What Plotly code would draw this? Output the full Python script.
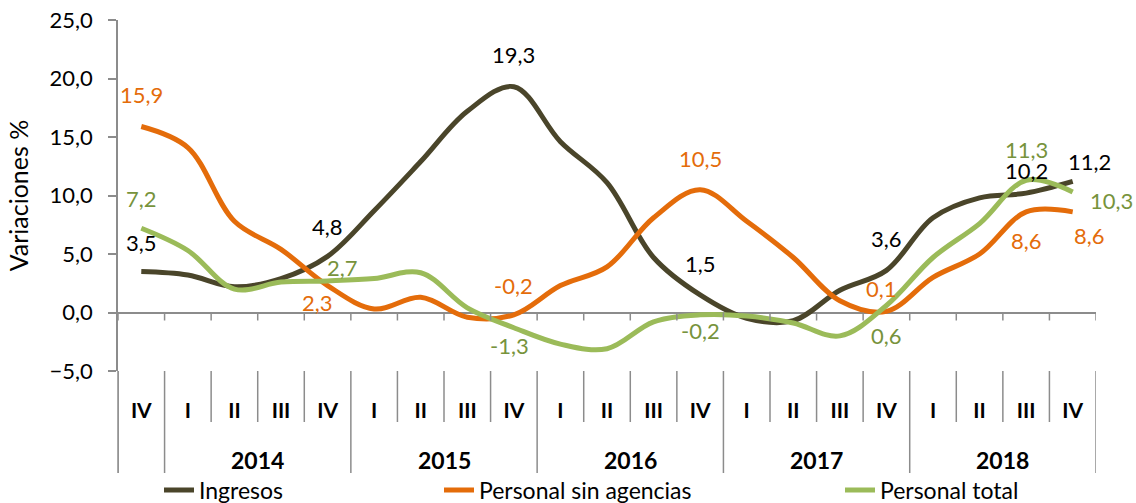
import plotly.graph_objects as go

# ---- data ----
quarters = ["IV", "I", "II", "III", "IV", "I", "II", "III", "IV", "I", "II", "III", "IV",
            "I", "II", "III", "IV", "I", "II", "III", "IV"]
years = ["", "2014", "2014", "2014", "2014", "2015", "2015", "2015", "2015",
         "2016", "2016", "2016", "2016", "2017", "2017", "2017", "2017",
         "2018", "2018", "2018", "2018"]
ingresos = [3.5, 3.2, 2.2, 2.9, 4.8, 8.7, 12.9, 17.2, 19.3, 14.6, 11.1, 4.7, 1.5,
            -0.5, -0.7, 1.9, 3.6, 8.1, 9.8, 10.2, 11.2]
sin_agencias = [15.9, 14.1, 7.8, 5.4, 2.3, 0.3, 1.3, -0.4, -0.2, 2.3, 3.9, 8.1, 10.5,
                7.8, 4.7, 1.0, 0.1, 3.0, 5.0, 8.6, 8.6]
personal_total = [7.2, 5.3, 2.0, 2.6, 2.7, 2.9, 3.4, 0.4, -1.3, -2.7, -3.1, -0.8, -0.2,
                  -0.3, -0.9, -2.0, 0.6, 4.7, 7.6, 11.3, 10.3]
labeled_idx = [0, 4, 8, 12, 16, 19, 20]

# label offsets in pixels (xshift, yshift) per labeled point
off_ing = [(0, 29), (0, 30), (0, 32), (0, 31), (0, 32), (0, 23), (17, 20)]
off_sin = [(0, 32), (-10, -17), (0, 29), (0, 31), (-5, 23), (0, -29), (17, -24)]
off_tot = [(0, 30), (15, 13), (-4, -18), (0, -16), (0, -30), (0, 31), (39, -9)]

FONT = "Lato"
C_DARK = "#4A452A"
C_ORANGE = "#E46C0A"
C_GREEN = "#9BBB59"
C_GREEN_TXT = "#77933C"
GRAY = "#8C8C8C"

PLOT_L, PLOT_R, PLOT_T, PLOT_B = 118, 1096, 20, 371
PW, PH = PLOT_R - PLOT_L, PLOT_B - PLOT_T


def px_x(p):
    return (p - PLOT_L) / PW


def px_y(p):
    return (PLOT_B - p) / PH


x = list(range(len(quarters)))

fig = go.Figure()
series = [
    ("Ingresos", ingresos, C_DARK, "black", off_ing, "legend"),
    ("Personal sin agencias", sin_agencias, C_ORANGE, C_ORANGE, off_sin, "legend2"),
    ("Personal total", personal_total, C_GREEN, C_GREEN_TXT, off_tot, "legend3"),
]
for name, vals, col, tcol, offs, lg in series:
    fig.add_trace(go.Scatter(
        x=x, y=vals, name=name, mode="lines",
        line=dict(color=col, width=5, shape="spline", smoothing=1),
        legend=lg, hoverinfo="skip",
    ))

annotations = []
for name, vals, col, tcol, offs, lg in series:
    for k, i in enumerate(labeled_idx):
        v = vals[i]
        annotations.append(dict(
            x=i, y=v, xref="x", yref="y", showarrow=False,
            text=f"{v:.1f}".replace(".", ","),
            xshift=offs[k][0], yshift=offs[k][1],
            font=dict(family=FONT, size=22, color=tcol),
        ))

# year group labels
groups = []
for i, yv in enumerate(years):
    if groups and groups[-1][0] == yv:
        groups[-1][2] = i
    else:
        groups.append([yv, i, i])
for yv, a, b in groups:
    if yv:
        annotations.append(dict(
            x=(a + b) / 2, y=px_y(460), xref="x", yref="paper", showarrow=False,
            text=f"<b>{yv}</b>", yanchor="middle",
            font=dict(family=FONT, size=23, color="black"),
        ))

shapes = []
n = len(quarters)
for bnd in range(n + 1):
    xb = bnd - 0.5
    is_year = bnd == 0 or bnd == n or years[bnd] != years[bnd - 1]
    shapes.append(dict(type="line", xref="x", yref="paper", x0=xb, x1=xb,
                       y0=0, y1=px_y(473) if is_year else px_y(422),
                       line=dict(color=GRAY, width=1.5)))
    shapes.append(dict(type="line", xref="x", yref="y", ysizemode="pixel", yanchor=0,
                       x0=xb, x1=xb, y0=0, y1=-8, line=dict(color=GRAY, width=1.5)))

leg_common = dict(orientation="h", bgcolor="rgba(0,0,0,0)", xanchor="left", yanchor="middle",
                  font=dict(family=FONT, size=23, color="black"))

fig.update_layout(
    width=1136, height=503,
    margin=dict(l=PLOT_L, r=1136 - PLOT_R, t=PLOT_T, b=503 - PLOT_B, autoexpand=False),
    paper_bgcolor="white", plot_bgcolor="white",
    separators=",.",
    font=dict(family=FONT, color="black"),
    xaxis=dict(range=[-0.5, n - 0.5], tickvals=x, ticktext=[f"<b>{q}</b>" for q in quarters],
               showgrid=False, zeroline=False, showline=False, ticks="",
               ticklabelstandoff=25, tickfont=dict(family=FONT, size=21, color="black"),
               fixedrange=True),
    yaxis=dict(range=[-5, 25], dtick=5, tickformat=".1f", showgrid=False,
               zeroline=True, zerolinecolor=GRAY, zerolinewidth=1.5,
               showline=True, linecolor=GRAY, linewidth=1.5,
               ticks="outside", ticklen=8, tickcolor=GRAY, tickwidth=1.5,
               ticklabelstandoff=11,
               tickfont=dict(family=FONT, size=22, color="black"),
               title=dict(text="Variaciones %", standoff=14,
                          font=dict(family=FONT, size=25, color="black")),
               fixedrange=True),
    annotations=annotations,
    shapes=shapes,
    showlegend=True,
    legend=dict(x=px_x(159), y=px_y(490), **leg_common),
    legend2=dict(x=px_x(439), y=px_y(490), **leg_common),
    legend3=dict(x=px_x(840), y=px_y(490), **leg_common),
)
# extend left axis down through category area
fig.add_shape(type="line", xref="paper", yref="paper", x0=0, x1=0, y0=0, y1=px_y(473),
              line=dict(color=GRAY, width=1.5))

fig.write_html("out.html", config={"displayModeBar": False},
               post_script="document.body.style.margin='0';document.body.style.overflow='hidden';")
